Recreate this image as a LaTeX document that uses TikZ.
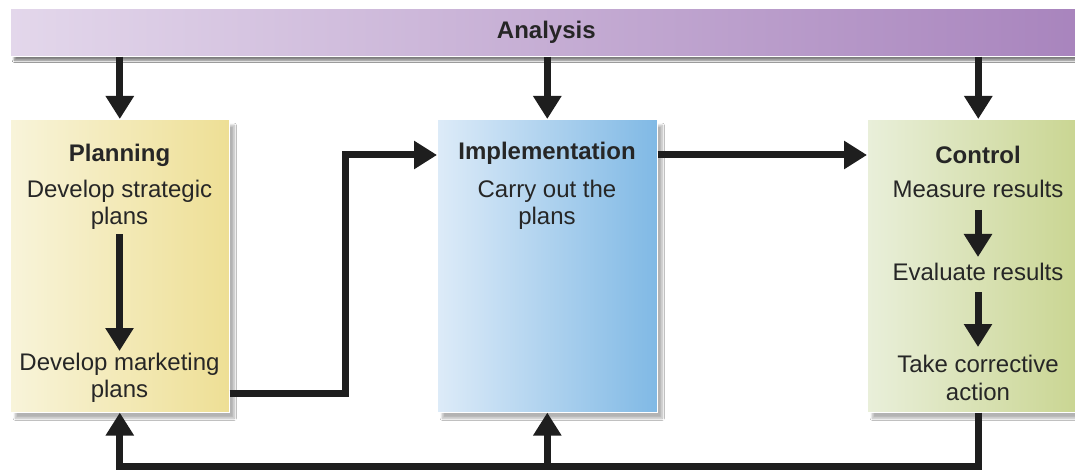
\documentclass[tikz,border=0pt]{standalone}
\usepackage{fontspec}
\setmainfont{Liberation Sans}
\usetikzlibrary{arrows.meta,shadows.blur}
\definecolor{anaL}{HTML}{E3D7EB}
\definecolor{anaR}{HTML}{A884BD}
\definecolor{plaL}{HTML}{F8F4DA}
\definecolor{plaR}{HTML}{EEDF95}
\definecolor{impL}{HTML}{DDEBF8}
\definecolor{impR}{HTML}{80B9E5}
\definecolor{conL}{HTML}{E9EFDA}
\definecolor{conR}{HTML}{C8D48E}
\definecolor{ink}{HTML}{1E1E1E}
\definecolor{txt}{HTML}{262626}
\tikzset{
  box/.style={draw=white, line width=0.6pt, anchor=north west, inner sep=0pt,
    blur shadow={shadow xshift=5pt, shadow yshift=-6pt, shadow blur steps=8, shadow opacity=30}},
  lbl/.style={align=center, text=txt, font=\fontsize{24}{27.5}\selectfont, inner sep=0pt},
  ttl/.style={lbl, font=\fontsize{24}{27.5}\selectfont\bfseries},
  conn/.style={draw=ink, line width=7pt, line join=miter},
  arr/.style={conn, -{Triangle[width=27pt,length=23pt]}},
}
\begin{document}
\begin{tikzpicture}[x=1pt,y=-1pt]
\useasboundingbox (0,0) rectangle (1075,470);
\fill[white] (0,0) rectangle (1075,470);
% analysis bar
\node[box, left color=anaL, right color=anaR, minimum width=1072pt, minimum height=48pt,
  blur shadow={shadow xshift=4pt, shadow yshift=-4pt, shadow blur steps=6, shadow opacity=30},
  font=\fontsize{24}{27.5}\selectfont\bfseries, text=txt] (ana) at (10,8) {Analysis};
% boxes
\node[box, left color=plaL, right color=plaR, minimum width=219pt, minimum height=293pt] (plan) at (10,119) {};
\node[box, left color=impL, right color=impR, minimum width=220pt, minimum height=293pt] (impl) at (437,119) {};
\node[box, left color=conL, right color=conR, minimum width=222pt, minimum height=293pt] (ctrl) at (867,119) {};
% planning texts
\node[ttl] (planT) at (119.5,155) {Planning};
\node[lbl] (plan1) at (119.5,205) {Develop strategic\\plans};
\node[lbl] (plan2) at (119.5,378) {Develop marketing\\plans};
% implementation texts
\node[ttl] (implT) at (547,153) {Implementation};
\node[lbl] (impl1) at (547,205) {Carry out the\\plans};
% control texts
\node[ttl] (ctrlT) at (978,155) {Control};
\node[lbl] (ctrl1) at (978,189) {Measure results};
\node[lbl] (ctrl2) at (978,272) {Evaluate results};
\node[lbl] (ctrl3) at (978,378) {Take corrective\\action};
% arrows inside boxes
\draw[arr] (plan1.south) ++(0,4) coordinate (p1s) -- (plan2.north |- 0,351) coordinate (p2n);
\draw[arr] (ctrl1.south |- 0,210) coordinate (c1s) -- (ctrl2.north |- 0,257) coordinate (c2n);
\draw[arr] (ctrl2.south |- 0,292) coordinate (c2s) -- (ctrl3.north |- 0,347) coordinate (c3n);
% from analysis
\draw[arr] (ana.south -| plan.north) -- (plan.north);
\draw[arr] (ana.south -| impl.north) -- (impl.north);
\draw[arr] (ana.south -| ctrl.north) -- (ctrl.north);
% planning -> implementation
\coordinate (pa) at (plan.east |- 0,393);
\coordinate (pb) at (345,393);
\coordinate (pc) at (345,155);
\draw[arr] (pa) -- (pb) -- (pc) -- (impl.west |- pc);
% implementation -> control
\draw[arr] (impl.east |- 0,155) -- (ctrl.west |- 0,155);
% feedback
\coordinate (fb) at (ctrl.south |- 0,466);
\coordinate (fl) at (plan.south |- 0,466);
\coordinate (fm) at (impl.south |- 0,466);
\draw[arr] (ctrl.south) -- (fb) -- (fl) -- (plan.south);
\draw[arr] (fm) -- (impl.south);
\end{tikzpicture}
\end{document}
